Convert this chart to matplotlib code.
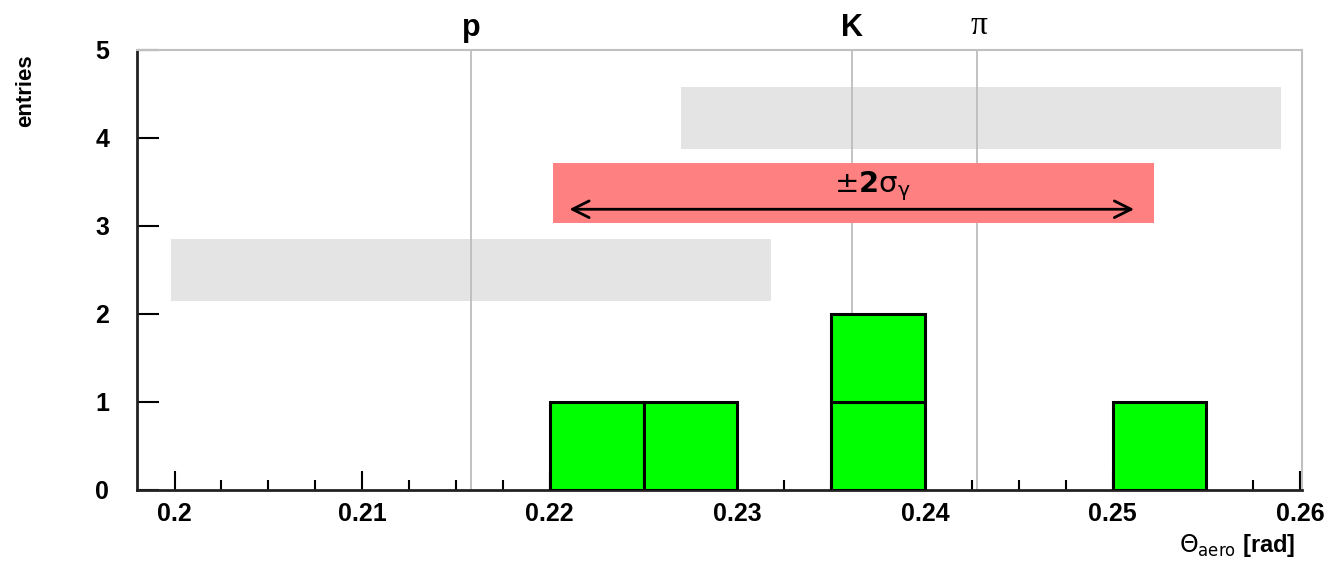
import matplotlib
matplotlib.use("Agg")
import matplotlib.pyplot as plt
from matplotlib.patches import Rectangle
from matplotlib.ticker import MultipleLocator

plt.rcParams['font.family'] = ['Liberation Sans', 'DejaVu Sans']
plt.rcParams['mathtext.fontset'] = 'dejavusans'

# histogram: left bin edges (rad) and entries per bin, two stacked layers
bin_left = [0.220, 0.225, 0.235, 0.250]
bin_width = 0.005
counts_first = [1, 1, 1, 1]
counts_second = [0, 0, 1, 0]

# expected Cherenkov angles for each hypothesis
species = ["p", "K", "π"]
theta_expected = [0.2158, 0.2361, 0.2428]

# +-2 sigma windows: (x0, x1, y0, y1)
grey_windows = [(0.2270, 0.2590, 3.87, 4.58),
                (0.1998, 0.2318, 2.15, 2.85)]
red_window = (0.2202, 0.2522, 3.03, 3.72)
arrow_span = (0.2209, 0.2513, 3.19)

fig = plt.figure(figsize=(13.34, 5.66), dpi=100)
ax = fig.add_axes([0.1027, 0.1343, 0.8733, 0.7774])

for x0, x1, y0, y1 in grey_windows:
    ax.add_patch(Rectangle((x0, y0), x1 - x0, y1 - y0, facecolor="#e4e4e4",
                           edgecolor="none", zorder=1))

for xv in theta_expected:
    ax.axvline(xv, color="#bdbdbd", lw=1.3, zorder=2)

x0, x1, y0, y1 = red_window
ax.add_patch(Rectangle((x0, y0), x1 - x0, y1 - y0, facecolor="#ff8080",
                       edgecolor="none", zorder=3))
ax.annotate("", xy=(arrow_span[0], arrow_span[2]), xytext=(arrow_span[1], arrow_span[2]),
            arrowprops=dict(arrowstyle="<->", color="black", lw=2,
                            mutation_scale=30), zorder=4)
ax.text(0.2372, 3.45, r"$\pm\mathbf{2}\mathrm{\sigma}_{\mathrm{\gamma}}$", ha="center",
        va="center", fontsize=21, zorder=5)

ax.bar(bin_left, counts_first, width=bin_width, align="edge", color="#00ff00",
       edgecolor="black", lw=2.2, zorder=5)
second = [(l, c, b) for l, c, b in zip(bin_left, counts_second, counts_first) if c > 0]
ax.bar([s[0] for s in second], [s[1] for s in second], bottom=[s[2] for s in second],
       width=bin_width, align="edge", color="#00ff00", edgecolor="black", lw=2.2, zorder=5)

trans = ax.get_xaxis_transform()
for name, xv in zip(species, theta_expected):
    if name == "π":
        ax.text(xv + 0.0001, 1.055, name, transform=trans, ha="center", va="center",
                fontsize=24, family=["Liberation Serif", "DejaVu Serif"])
    else:
        ax.text(xv, 1.05, name, transform=trans, ha="center", va="center",
                fontsize=22, fontweight="bold")

ax.set_xlim(0.198, 0.2601)
ax.set_ylim(0, 5)
ax.xaxis.set_minor_locator(MultipleLocator(0.0025))
ax.yaxis.set_major_locator(MultipleLocator(1))
ax.set_xticks([0.20, 0.21, 0.22, 0.23, 0.24, 0.25, 0.26])
ax.set_xticklabels(["0.2", "0.21", "0.22", "0.23", "0.24", "0.25", "0.26"])

ax.tick_params(axis="x", which="major", direction="in", length=14, width=1.5,
               pad=9, labelsize=18)
ax.tick_params(axis="x", which="minor", direction="in", length=7, width=1.5)
ax.tick_params(axis="y", which="major", direction="in", length=16, width=1.5,
               pad=20, labelsize=18)
for lab in ax.get_xticklabels() + ax.get_yticklabels():
    lab.set_fontweight("bold")

for side in ("left", "bottom"):
    ax.spines[side].set_linewidth(2)
    ax.spines[side].set_color("#222222")
for side in ("top", "right"):
    ax.spines[side].set_linewidth(1.5)
    ax.spines[side].set_color("#c0c0c0")

fig.text(0.971, 0.037, r"$\Theta_{\rm aero}$ [rad]", ha="right", va="center",
         fontsize=17, fontweight="bold")
fig.text(0.019, 0.84, "entries", rotation=90, ha="center", va="center",
         fontsize=16, fontweight="bold")

fig.savefig("out.png", dpi=100, facecolor="white")
